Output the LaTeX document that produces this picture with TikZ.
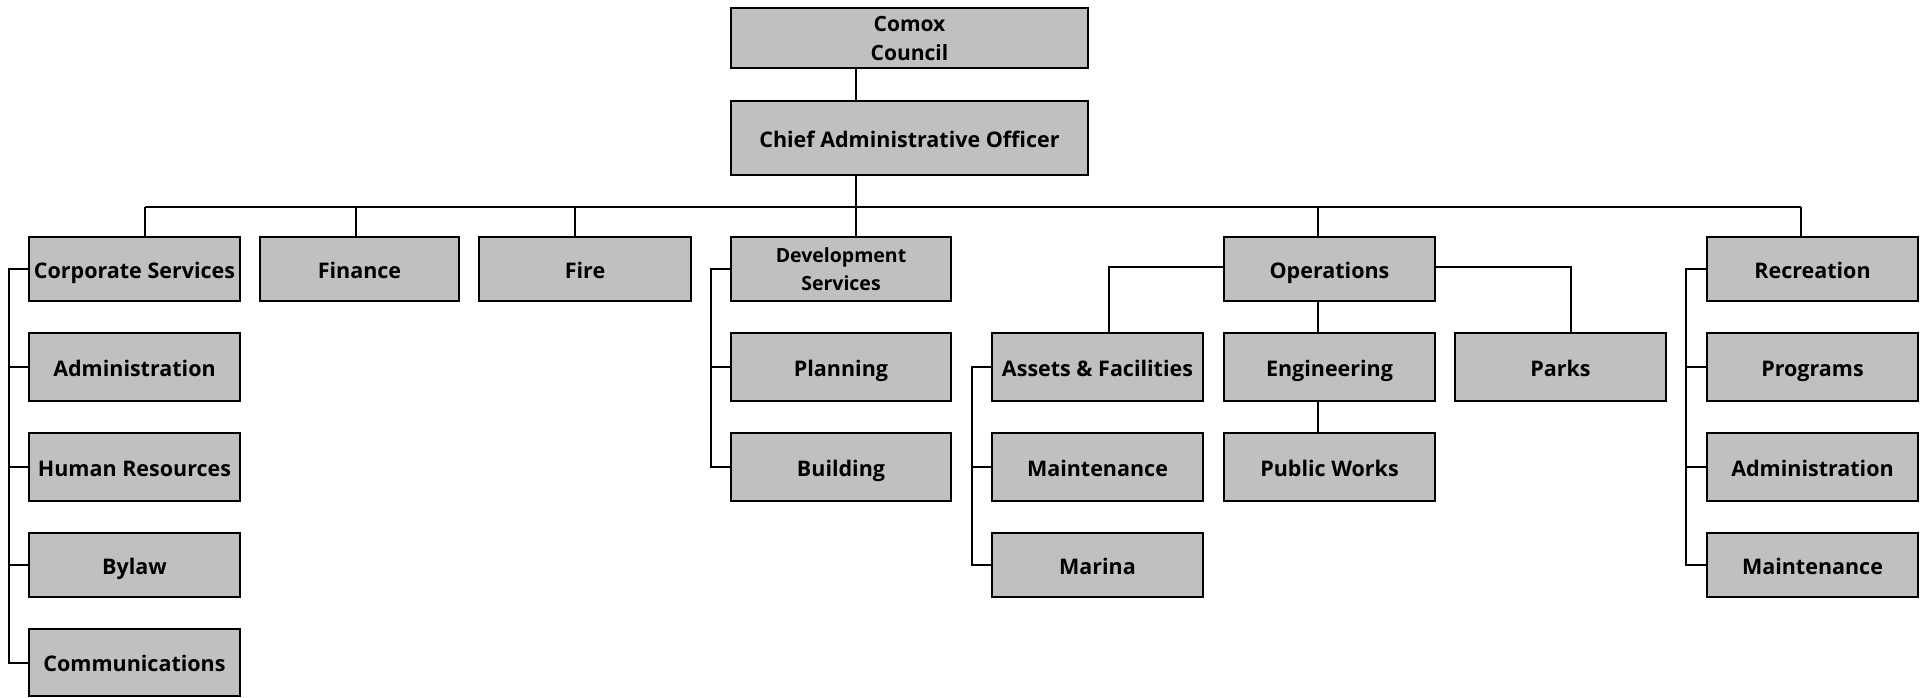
\documentclass[tikz,border=0pt]{standalone}
\usepackage{fontspec}
\setmainfont{Open Sans}
\usetikzlibrary{calc}
\definecolor{boxgray}{HTML}{C0C0C0}
\begin{document}
\begin{tikzpicture}[x=1pt,y=-1pt,
  unit/.style={draw=black, line width=2.4pt, fill=boxgray, rectangle,
    inner sep=0pt, align=center, font=\bfseries\fontsize{21.5}{29}\selectfont},
  one/.style={unit, text height=18pt, text depth=0pt},
  link/.style={line width=2pt, black}]
\useasboundingbox (0,0) rectangle (1925,697);

% council and CAO
\node[unit, minimum width=357, minimum height=60, font=\bfseries\fontsize{21}{29}\selectfont] (council) at (909.5,38) {Comox\\Council};
\node[one, minimum width=357, minimum height=74] (cao) at (909.5,138) {Chief Administrative Officer};

% departments
\node[one, minimum width=211, minimum height=64] (corp) at (134.5,269) {Corporate Services};
\node[one, minimum width=199, minimum height=64] (fin) at (359.5,269) {Finance};
\node[one, minimum width=212, minimum height=64] (fire) at (585,269) {Fire};
\node[unit, minimum width=220, minimum height=64, font=\bfseries\fontsize{19.5}{27.5}\selectfont] (dev) at (841,269) {Development\\Services};
\node[one, minimum width=211, minimum height=64] (ops) at (1329.5,269) {Operations};
\node[one, minimum width=211, minimum height=64] (rec) at (1812.5,269) {Recreation};

% corporate services units
\node[one, minimum width=211, minimum height=68] (cadm) at (134.5,367) {Administration};
\node[one, minimum width=211, minimum height=68] (hr) at (134.5,467) {Human Resources};
\node[one, minimum width=211, minimum height=64] (bylaw) at (134.5,565) {Bylaw};
\node[one, minimum width=211, minimum height=67] (comm) at (134.5,662.5) {Communications};

% development services units
\node[one, minimum width=220, minimum height=68] (plan) at (841,367) {Planning};
\node[one, minimum width=220, minimum height=68] (build) at (841,467) {Building};

% operations units
\node[one, minimum width=211, minimum height=68] (assets) at (1097.5,367) {Assets \& Facilities};
\node[one, minimum width=211, minimum height=68] (omaint) at (1097.5,467) {Maintenance};
\node[one, minimum width=211, minimum height=64] (marina) at (1097.5,565) {Marina};
\node[one, minimum width=211, minimum height=68] (eng) at (1329.5,367) {Engineering};
\node[one, minimum width=211, minimum height=68] (pw) at (1329.5,467) {Public Works};
\node[one, minimum width=211, minimum height=68] (parks) at (1560.5,367) {Parks};

% recreation units
\node[one, minimum width=211, minimum height=68] (prog) at (1812.5,367) {Programs};
\node[one, minimum width=211, minimum height=68] (radm) at (1812.5,467) {Administration};
\node[one, minimum width=211, minimum height=64] (rmaint) at (1812.5,565) {Maintenance};

% bus taps
\coordinate (bcorp) at (145,207);
\coordinate (bfin) at (356,207);
\coordinate (bfire) at (574.5,207);
\coordinate (bdev) at (856,207);
\coordinate (bops) at (1318,207);
\coordinate (brec) at (1801,207);

% spines
\coordinate (scorp) at (8.5,0);
\coordinate (sdev) at (710.5,0);
\coordinate (sassets) at (972,0);
\coordinate (srec) at (1685.5,0);
\coordinate (jassets) at (1108.5,267);
\coordinate (jparks) at (1570.5,267);

% top of the chart
\draw[link] (council.south -| bdev) -- (cao.north -| bdev);
\draw[link] (cao.south -| bdev) -- (dev.north -| bdev);
\draw[link] (bcorp) -- (brec);
\draw[link] (bcorp) -- (corp.north -| bcorp);
\draw[link] (bfin) -- (fin.north -| bfin);
\draw[link] (bfire) -- (fire.north -| bfire);
\draw[link] (bops) -- (ops.north -| bops);
\draw[link] (brec) -- (rec.north -| brec);

% corporate services
\draw[link] (corp.west) -- (scorp |- corp.west) -- (scorp |- comm.west) -- (comm.west);
\foreach \n in {cadm,hr,bylaw} \draw[link] (scorp |- \n.west) -- (\n.west);

% development services
\draw[link] (dev.west) -- (sdev |- dev.west) -- (sdev |- build.west) -- (build.west);
\draw[link] (sdev |- plan.west) -- (plan.west);

% operations
\draw[link] (ops.west |- jassets) -- (jassets) -- (jassets |- assets.north);
\draw[link] (ops.east |- jparks) -- (jparks) -- (jparks |- parks.north);
\draw[link] (ops.south -| bops) -- (eng.north -| bops);
\draw[link] (eng.south -| bops) -- (pw.north -| bops);
\draw[link] (assets.west) -- (sassets |- assets.west) -- (sassets |- marina.west) -- (marina.west);
\draw[link] (sassets |- omaint.west) -- (omaint.west);

% recreation
\draw[link] (rec.west) -- (srec |- rec.west) -- (srec |- rmaint.west) -- (rmaint.west);
\foreach \n in {prog,radm} \draw[link] (srec |- \n.west) -- (\n.west);
\end{tikzpicture}
\end{document}
